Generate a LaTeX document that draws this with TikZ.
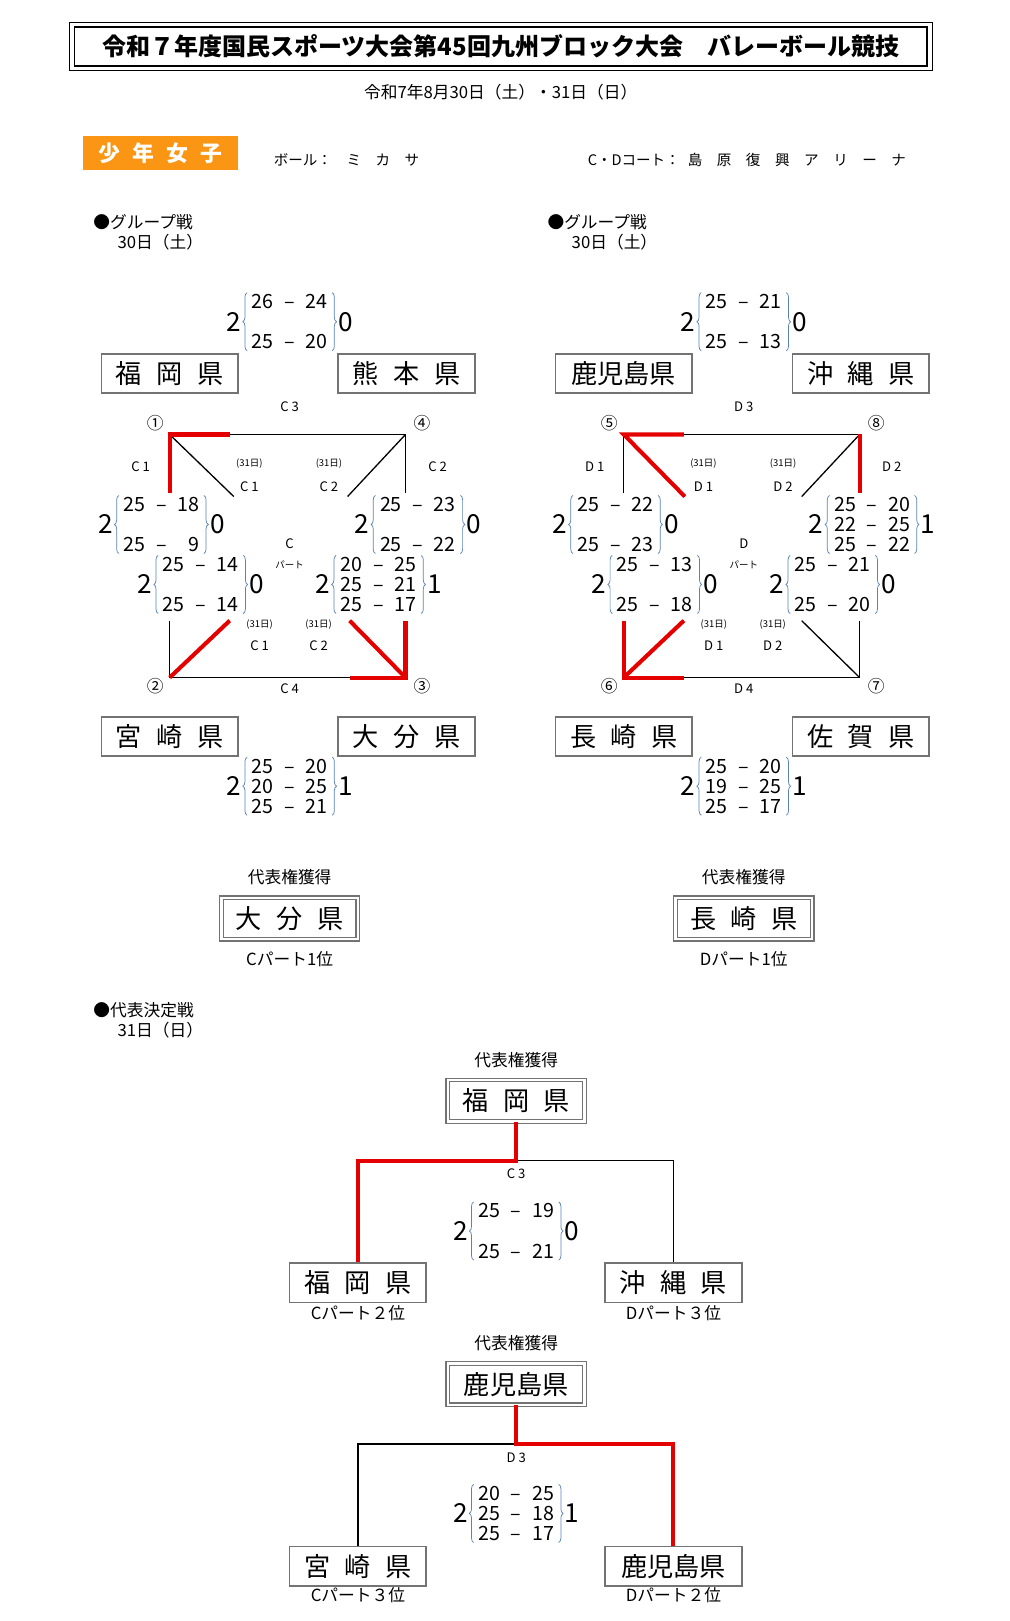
\documentclass[tikz,border=0pt]{standalone}
\usepackage{fontspec}
\setmainfont{Noto Sans CJK JP}
\usetikzlibrary{positioning,decorations.pathreplacing}

\definecolor{bracecol}{RGB}{90,130,185}
\definecolor{tabcol}{RGB}{250,150,20}

\newcommand\gap{\hspace{0.55em}}
\newcommand\pts[2]{#1\hspace{0.55em}–\hspace{0.55em}#2}
% score block: name, position, left, right, rows
\newcommand\scoreblock[5]{%
  \node[scores] (#1) at (#2) {#5};
  \draw[bracel] (#1.south west) -- (#1.north west);
  \draw[bracel] (#1.north east) -- (#1.south east);
  \node[bignum, left=4pt of #1] (#1l) {#3};
  \node[bignum, right=4pt of #1] (#1r) {#4};}

\begin{document}
\begin{tikzpicture}
        [x=0.025cm,y=-0.025cm,
        team/.style={draw=black!55,line width=1.1pt,minimum width=3.3cm,minimum height=0.95cm,inner sep=0pt,font=\fontsize{18}{18}\selectfont},
        winner/.style={draw=black!55,double,double distance=1.6pt,line width=0.9pt,minimum width=3.3cm,minimum height=1cm,inner sep=0pt,font=\fontsize{18}{18}\selectfont},
        scores/.style={align=center,inner xsep=3pt,inner ysep=1pt,font=\fontsize{13.5}{13.8}\selectfont},
        bignum/.style={inner sep=0pt,font=\fontsize{18}{18}\selectfont},
        bracel/.style={bracecol,decorate,decoration={brace,amplitude=3pt},line width=0.5pt},
        label/.style={inner sep=0pt,font=\fontsize{11.5}{12}\selectfont},
        small/.style={inner sep=0pt,font=\fontsize{9}{9}\selectfont},
        tiny/.style={inner sep=0pt,font=\fontsize{6.5}{6.5}\selectfont},
        thin/.style={line width=0.9pt},
        win/.style={red!90!black,line width=2.8pt}]
        \useasboundingbox (0,0) rectangle (976,1567);

        % heading
        \node[draw,line width=0.6pt,minimum width=20.85cm,minimum height=1.15cm] (outer) at (484,45) {};
        \node[draw,line width=1pt,minimum width=20.6cm,minimum height=0.95cm,font=\fontsize{16.5}{16.5}\selectfont\bfseries] (title) at (484,45)
            {令和７年度国民スポーツ大会第45回九州ブロック大会\quad バレーボール競技};
        \node[label] (date) at (484,89) {令和7年8月30日（土）・31日（日）};
        \node[fill=tabcol,text=white,minimum width=3.75cm,minimum height=0.82cm,inner sep=0pt,font=\fontsize{15}{15}\selectfont\bfseries] (tab) at (155,148) {少\gap 年\gap 女\gap 子};
        \node[small,font=\fontsize{10}{10}\selectfont] (ball) at (335,155) {ボール：\quad ミ\quad カ\quad サ};
        \node[small,font=\fontsize{10}{10}\selectfont] (court) at (722,155) {C・Dコート：\gap 島\quad 原\quad 復\quad 興\quad ア\quad リ\quad ー\quad ナ};

        % group C
        \node[label,anchor=west] (gc) at (90,215) {●グループ戦};
        \node[label] (gcd) at (155,234) {30日（土）};
        \coordinate (c1) at (164,420); \coordinate (c4) at (392,420);
        \coordinate (c2) at (164,655); \coordinate (c3) at (392,655);
        \coordinate (c1v) at (164,477); \coordinate (c1d) at (226,480);
        \coordinate (c4v) at (392,477); \coordinate (c4d) at (336,480);
        \coordinate (c2v) at (164,600); \coordinate (c2d) at (222,600);
        \coordinate (c3v) at (392,600); \coordinate (c3d) at (338,600);
        \draw[thin] (c1v) -- (c1) -- (c4) -- (c4v);
        \draw[thin] (c1) -- (c1d);
        \draw[thin] (c4) -- (c4d);
        \draw[thin] (c2v) -- (c2) -- (c3) -- (c3v);
        \draw[thin] (c2) -- (c2d);
        \draw[thin] (c3) -- (c3d);
        \draw[win] (c1v) -- (c1) -- (222,420);
        \draw[win] (c2d) -- (c2);
        \draw[win] (c3v) -- (c3) -- (338,655);
        \draw[win] (c3) -- (c3d);
        \node[label] (n1) at (150,409) {①}; \node[label] (n4) at (408,409) {④};
        \node[label] (n2) at (150,663) {②}; \node[label] (n3) at (408,663) {③};
        \node[team] (fukuoka) at (164,361) {福\gap 岡\gap 県};
        \node[team] (kumamoto) at (393,361) {熊\gap 本\gap 県};
        \node[team] (miyazaki) at (164,712) {宮\gap 崎\gap 県};
        \node[team] (oita) at (393,712) {大\gap 分\gap 県};
        \node[small] (cc3) at (280,393) {C\ 3};
        \node[small] (cc1) at (136,451) {C\ 1};
        \node[small] (cc2) at (423,451) {C\ 2};
        \node[small] (cc4) at (280,666) {C\ 4};
        \node[tiny] (cd1) at (241,448) {(31日)}; \node[small] (cx1) at (241,470) {C\ 1};
        \node[tiny] (cd2) at (318,448) {(31日)}; \node[small] (cx2) at (318,470) {C\ 2};
        \node[tiny] (cd3) at (251,604) {(31日)}; \node[small] (cx3) at (251,624) {C\ 1};
        \node[tiny] (cd4) at (308,604) {(31日)}; \node[small] (cx4) at (308,624) {C\ 2};
        \node[small] (cpart) at (280,526) {C};
        \node[tiny] (cpart2) at (280,546) {パート};
        \scoreblock{cs1}{280,311}{2}{0}{\pts{26}{24}\\[13.8pt]\pts{25}{20}}
        \scoreblock{cs2}{156,507}{2}{0}{\pts{25}{18}\\[13.8pt]\pts{25}{\phantom{1}9}}
        \scoreblock{cs3}{404,507}{2}{0}{\pts{25}{23}\\[13.8pt]\pts{25}{22}}
        \scoreblock{cs4}{194,565}{2}{0}{\pts{25}{14}\\[13.8pt]\pts{25}{14}}
        \scoreblock{cs5}{366,565}{2}{1}{\pts{20}{25}\\\pts{25}{21}\\\pts{25}{17}}
        \scoreblock{cs6}{280,760}{2}{1}{\pts{25}{20}\\\pts{20}{25}\\\pts{25}{21}}

        % group D
        \node[label,anchor=west] (gd) at (529,215) {●グループ戦};
        \node[label] (gdd) at (594,234) {30日（土）};
        \coordinate (d5) at (603,420); \coordinate (d8) at (831,420);
        \coordinate (d6) at (603,655); \coordinate (d7) at (831,655);
        \coordinate (d5v) at (603,477); \coordinate (d5d) at (662,480);
        \coordinate (d8v) at (831,477); \coordinate (d8d) at (775,480);
        \coordinate (d6v) at (603,600); \coordinate (d6d) at (661,600);
        \coordinate (d7v) at (831,600); \coordinate (d7d) at (775,600);
        \draw[thin] (d5v) -- (d5) -- (d8) -- (d8v);
        \draw[thin] (d5) -- (d5d);
        \draw[thin] (d8) -- (d8d);
        \draw[thin] (d6v) -- (d6) -- (d7) -- (d7v);
        \draw[thin] (d6) -- (d6d);
        \draw[thin] (d7) -- (d7d);
        \draw[win] (d5d) -- (d5) -- (661,420);
        \draw[win] (d8) -- (d8v);
        \draw[win] (d6v) -- (d6) -- (661,655);
        \draw[win] (d6) -- (d6d);
        \node[label] (n5) at (589,409) {⑤}; \node[label] (n8) at (847,409) {⑧};
        \node[label] (n6) at (589,663) {⑥}; \node[label] (n7) at (847,663) {⑦};
        \node[team] (kagoshima) at (603,361) {鹿児島県};
        \node[team] (okinawa) at (832,361) {沖\gap 縄\gap 県};
        \node[team] (nagasaki) at (603,712) {長\gap 崎\gap 県};
        \node[team] (saga) at (832,712) {佐\gap 賀\gap 県};
        \node[small] (dd3) at (719,393) {D\ 3};
        \node[small] (dd1) at (575,451) {D\ 1};
        \node[small] (dd2) at (862,451) {D\ 2};
        \node[small] (dd4) at (719,666) {D\ 4};
        \node[tiny] (dt1) at (680,448) {(31日)}; \node[small] (dx1) at (680,470) {D\ 1};
        \node[tiny] (dt2) at (757,448) {(31日)}; \node[small] (dx2) at (757,470) {D\ 2};
        \node[tiny] (dt3) at (690,604) {(31日)}; \node[small] (dx3) at (690,624) {D\ 1};
        \node[tiny] (dt4) at (747,604) {(31日)}; \node[small] (dx4) at (747,624) {D\ 2};
        \node[small] (dpart) at (719,526) {D};
        \node[tiny] (dpart2) at (719,546) {パート};
        \scoreblock{ds1}{719,311}{2}{0}{\pts{25}{21}\\[13.8pt]\pts{25}{13}}
        \scoreblock{ds2}{595,507}{2}{0}{\pts{25}{22}\\[13.8pt]\pts{25}{23}}
        \scoreblock{ds3}{843,507}{2}{1}{\pts{25}{20}\\\pts{22}{25}\\\pts{25}{22}}
        \scoreblock{ds4}{633,565}{2}{0}{\pts{25}{13}\\[13.8pt]\pts{25}{18}}
        \scoreblock{ds5}{805,565}{2}{0}{\pts{25}{21}\\[13.8pt]\pts{25}{20}}
        \scoreblock{ds6}{719,760}{2}{1}{\pts{25}{20}\\\pts{19}{25}\\\pts{25}{17}}

        % group winners
        \node[label] (repc) at (280,848) {代表権獲得};
        \node[winner] (wc) at (280,888) {大\gap 分\gap 県};
        \node[label] (wcl) at (280,927) {Cパート1位};
        \node[label] (repd) at (719,848) {代表権獲得};
        \node[winner] (wd) at (719,888) {長\gap 崎\gap 県};
        \node[label] (wdl) at (719,927) {Dパート1位};

        % deciding matches
        \node[label,anchor=west] (gk) at (90,977) {●代表決定戦};
        \node[label] (gkd) at (155,996) {31日（日）};

        \node[label] (rep1) at (499,1025) {代表権獲得};
        \node[winner] (w1) at (499,1064) {福\gap 岡\gap 県};
        \node[team] (f1) at (346,1240) {福\gap 岡\gap 県};
        \node[team] (f2) at (651,1240) {沖\gap 縄\gap 県};
        \node[label] (f1l) at (346,1269) {Cパート２位};
        \node[label] (f2l) at (651,1269) {Dパート３位};
        \coordinate (j1) at (499,1122);
        \draw[thin] (j1) -| (f2.north);
        \draw[win] (w1.south) -- (j1) -| (f1.north);
        \node[small] (k1) at (499,1135) {C\ 3};
        \scoreblock{ks1}{499,1190}{2}{0}{\pts{25}{19}\\[13.8pt]\pts{25}{21}}

        \node[label] (rep2) at (499,1298) {代表権獲得};
        \node[winner] (w2) at (499,1338) {鹿児島県};
        \node[team] (g1) at (346,1514) {宮\gap 崎\gap 県};
        \node[team] (g2) at (651,1514) {鹿児島県};
        \node[label] (g1l) at (346,1542) {Cパート３位};
        \node[label] (g2l) at (651,1542) {Dパート２位};
        \coordinate (j2) at (499,1396);
        \draw[thin] (j2) -| (g1.north);
        \draw[win] (w2.south) -- (j2) -| (g2.north);
        \node[small] (k2) at (499,1409) {D\ 3};
        \scoreblock{ks2}{499,1463}{2}{1}{\pts{20}{25}\\\pts{25}{18}\\\pts{25}{17}}
\end{tikzpicture}
\end{document}
